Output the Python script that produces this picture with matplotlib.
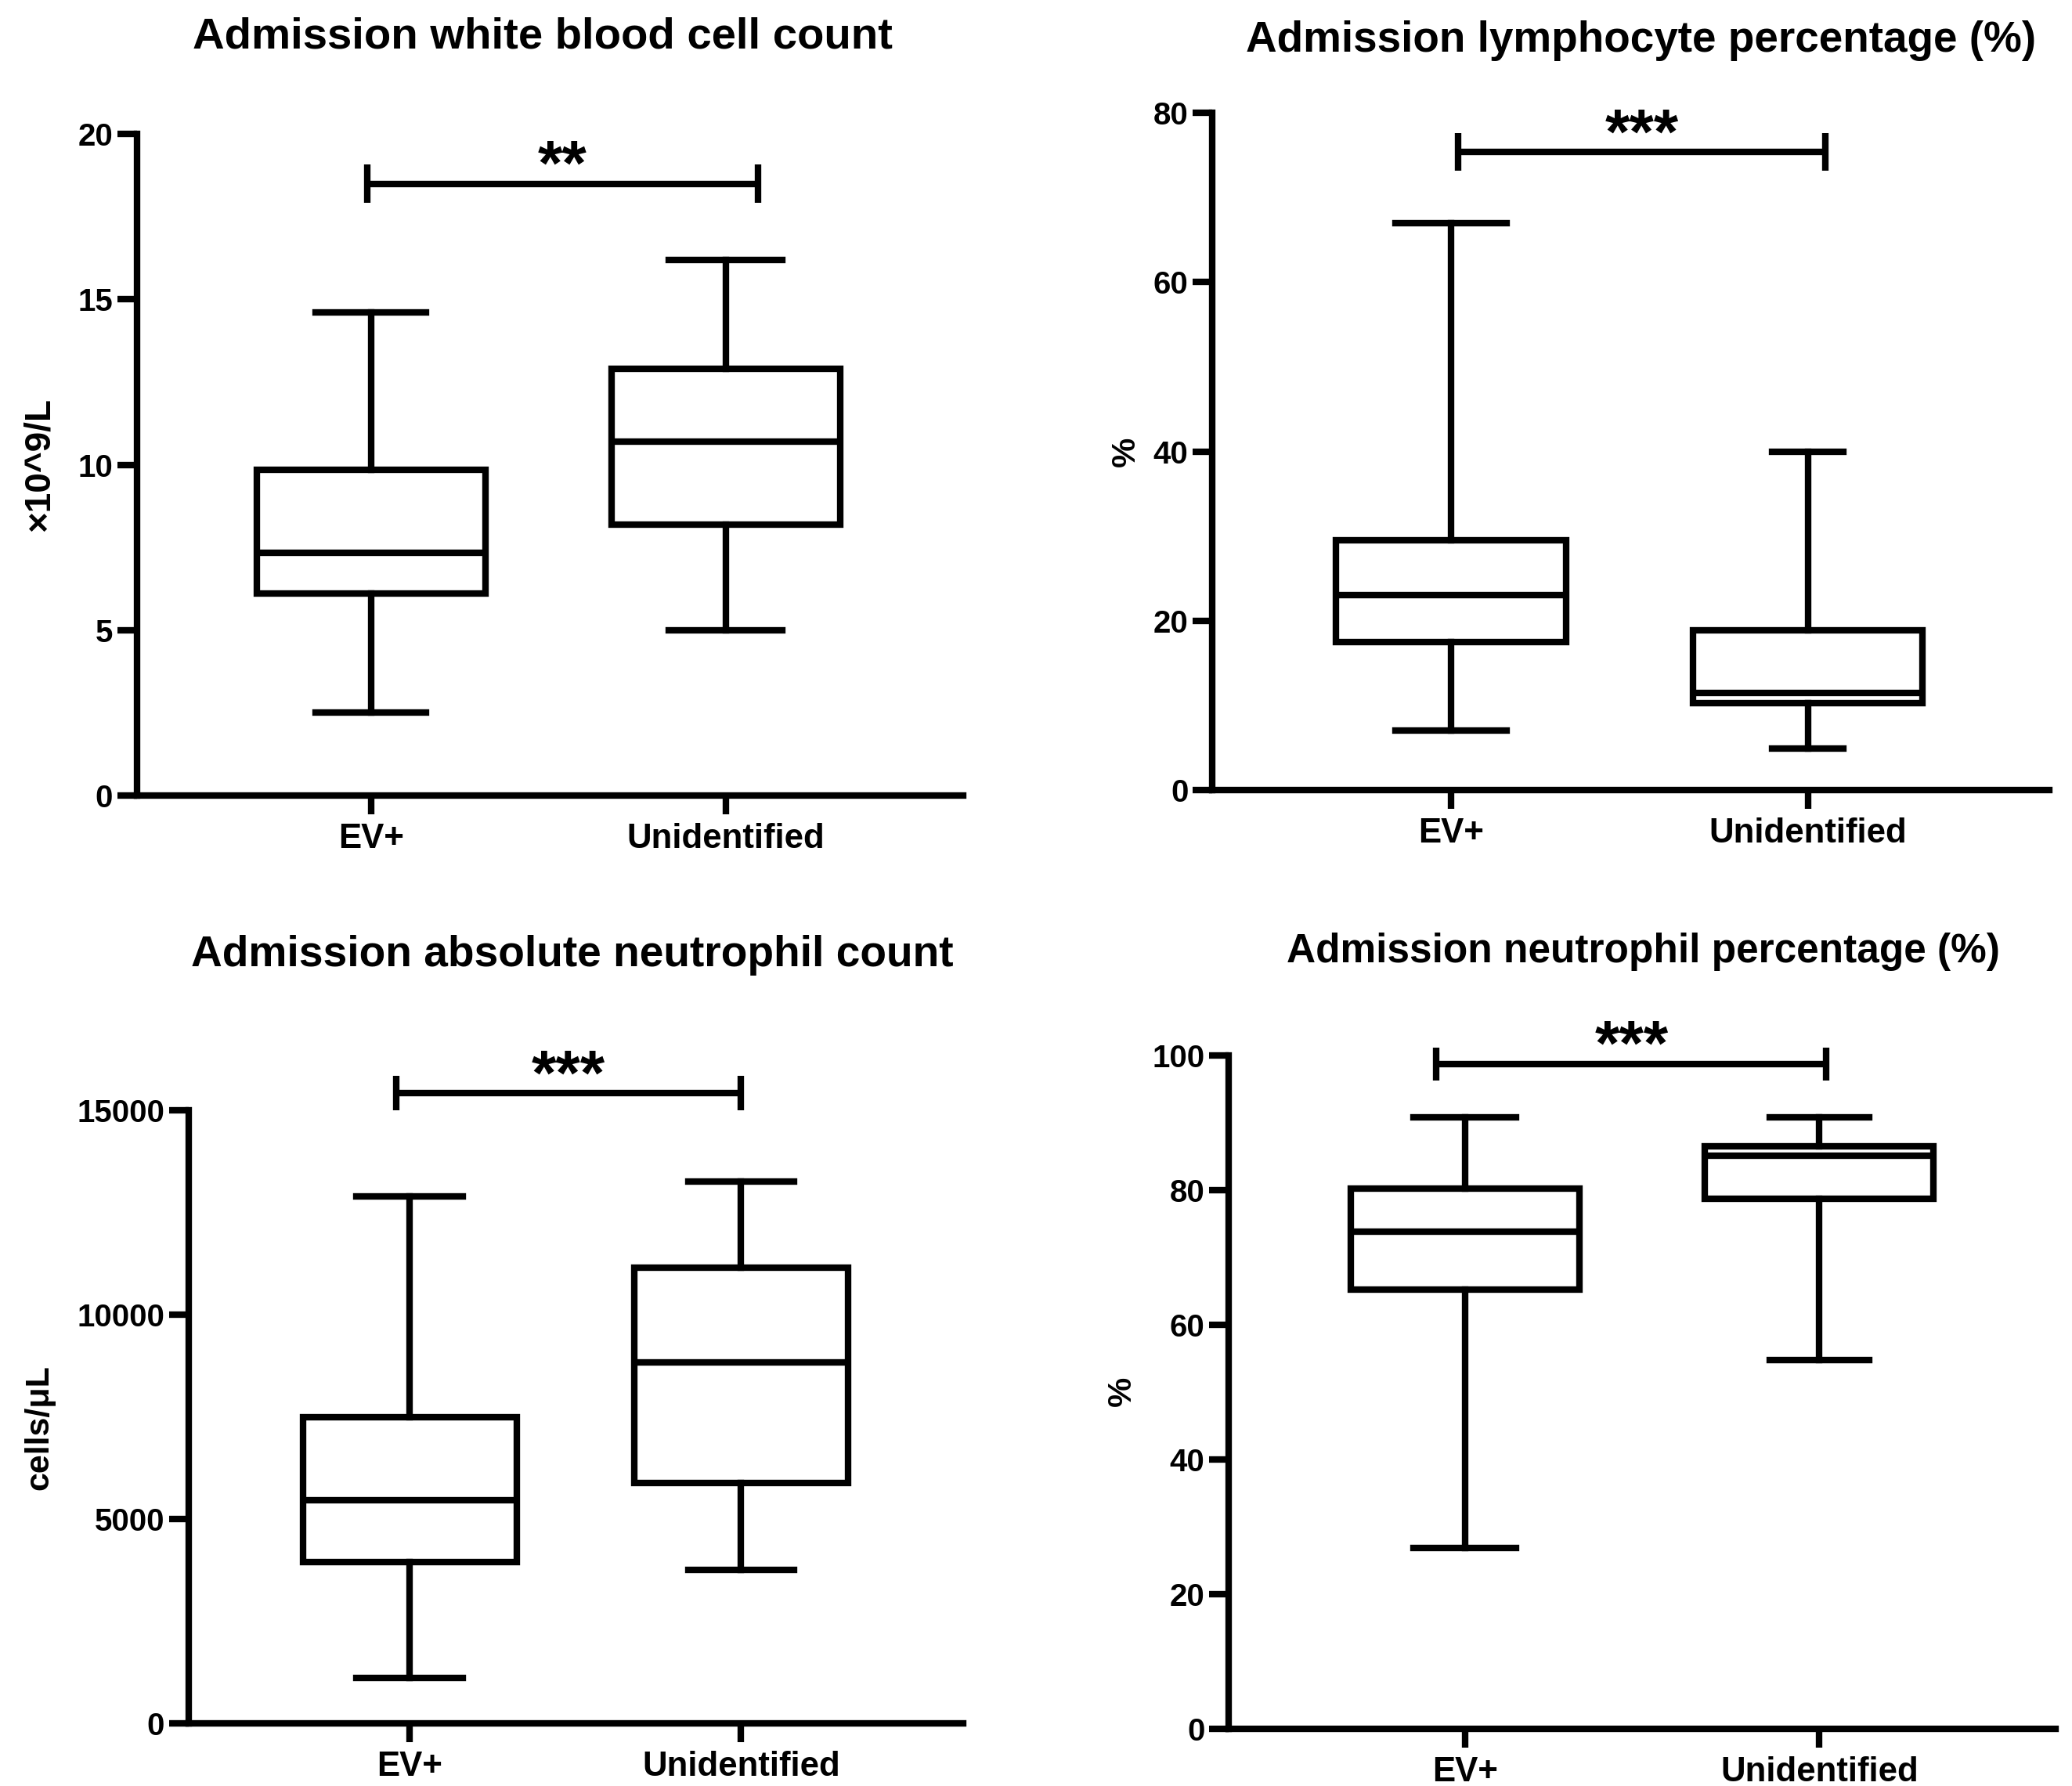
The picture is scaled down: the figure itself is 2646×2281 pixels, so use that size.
import matplotlib
matplotlib.use("Agg")
import matplotlib.pyplot as plt

plt.rcParams['font.family'] = ['Liberation Sans', 'DejaVu Sans']
plt.rcParams['font.weight'] = 'bold'

categories = ["EV+", "Unidentified"]

# five-number summaries: (min, q1, median, q3, max)
wbc_ev = [2.5, 6.1, 7.35, 9.85, 14.6]
wbc_un = [5.0, 8.2, 10.7, 12.9, 16.2]
lym_ev = [7.0, 17.5, 23.0, 29.5, 67.0]
lym_un = [4.9, 10.3, 11.5, 18.9, 40.0]
anc_ev = [1120, 3950, 5470, 7500, 12900]
anc_un = [3760, 5890, 8830, 11150, 13250]
neu_ev = [26.9, 65.3, 73.9, 80.3, 90.8]
neu_un = [54.8, 78.7, 85.1, 86.6, 90.8]

titles = ["Admission white blood cell count",
          "Admission lymphocyte percentage (%)",
          "Admission absolute neutrophil count",
          "Admission neutrophil percentage (%)"]
ylabels = ["×10^9/L", "%", "cells/μL", "%"]
yticks = [[0, 5, 10, 15, 20],
          [0, 20, 40, 60, 80],
          [0, 5000, 10000, 15000],
          [0, 20, 40, 60, 80, 100]]
stars = ["**", "***", "***", "***"]
series = [(wbc_ev, wbc_un), (lym_ev, lym_un), (anc_ev, anc_un), (neu_ev, neu_un)]

# layout (figure fractions)
axes_rects = [
    [0.066, 0.5546, 0.465 - 0.066, 0.9249 - 0.5546],
    [0.585, 0.5576, 0.989 - 0.585, 0.9368 - 0.5576],
    [0.091, 0.0349, 0.465 - 0.091, 0.3784 - 0.0349],
    [0.593, 0.0320, 0.992 - 0.593, 0.4089 - 0.0320],
]
title_pos = [(0.262, 0.979), (0.792, 0.977), (0.276, 0.465), (0.793, 0.467)]
title_size = [40.5, 39.5, 39.7, 37]
ylabel_pos = [(0.019, 0.740), (0.5436, 0.747), (0.019, 0.2007), (0.5417, 0.2208)]
ylabel_size = [33, 31, 31, 31]
xlims = [(0.34, 2.67), (0.33, 2.677), (0.333, 2.671), (0.334, 2.666)]
capw = [[0.31, 0.32], [0.31, 0.20], [0.32, 0.32], [0.29, 0.28]]
# bracket: x1, x2, y, half-height of end ticks
brackets = [(0.99, 2.09, 18.5, 0.58),
            (1.02, 2.05, 75.4, 2.25),
            (0.96, 2.00, 15420, 420),
            (0.92, 2.02, 98.8, 2.45)]

LW = 6.0
fig = plt.figure(figsize=(26.46, 22.81), dpi=100)

for i in range(4):
    ax = fig.add_axes(axes_rects[i])
    stats = []
    for lab, s in zip(categories, series[i]):
        stats.append(dict(whislo=s[0], q1=s[1], med=s[2], q3=s[3], whishi=s[4],
                          fliers=[], label=lab))
    ax.bxp(stats, positions=[1, 2], widths=0.645, capwidths=capw[i],
           patch_artist=True, showfliers=False,
           boxprops=dict(facecolor='white', edgecolor='black', linewidth=LW),
           medianprops=dict(color='black', linewidth=LW),
           whiskerprops=dict(color='black', linewidth=LW),
           capprops=dict(color='black', linewidth=LW))
    ax.set_xlim(*xlims[i])
    ax.set_ylim(0, yticks[i][-1])
    ax.set_yticks(yticks[i])
    ax.set_yticklabels([str(t) for t in yticks[i]])
    ax.set_xticks([1, 2])
    ax.set_xticklabels(categories)
    for sp in ['top', 'right']:
        ax.spines[sp].set_visible(False)
    for sp in ['left', 'bottom']:
        ax.spines[sp].set_linewidth(LW)
        ax.spines[sp].set_capstyle('projecting')
    ax.tick_params(axis='y', direction='out', length=18, width=LW, labelsize=29, pad=4)
    ax.tick_params(axis='x', direction='out', length=17, width=LW, labelsize=31.5, pad=8)
    for lbl in ax.get_xticklabels() + ax.get_yticklabels():
        lbl.set_fontweight('bold')

    x1, x2, yb, h = brackets[i]
    ax.plot([x1, x2], [yb, yb], color='black', lw=LW, clip_on=False, solid_capstyle='butt')
    ax.plot([x1, x1], [yb - h, yb + h], color='black', lw=LW, clip_on=False, solid_capstyle='butt')
    ax.plot([x2, x2], [yb - h, yb + h], color='black', lw=LW, clip_on=False, solid_capstyle='butt')
    ax.annotate(stars[i], xy=((x1 + x2) / 2, yb), xytext=(0, -1), textcoords='offset points',
                ha='center', va='baseline', fontsize=58, fontweight='bold',
                annotation_clip=False)

    fig.text(title_pos[i][0], title_pos[i][1], titles[i], ha='center', va='center',
             fontsize=title_size[i], fontweight='bold')
    fig.text(ylabel_pos[i][0], ylabel_pos[i][1], ylabels[i], ha='center', va='center',
             rotation=90, fontsize=ylabel_size[i], fontweight='bold')

fig.savefig("out.png", dpi=100, facecolor='white')
